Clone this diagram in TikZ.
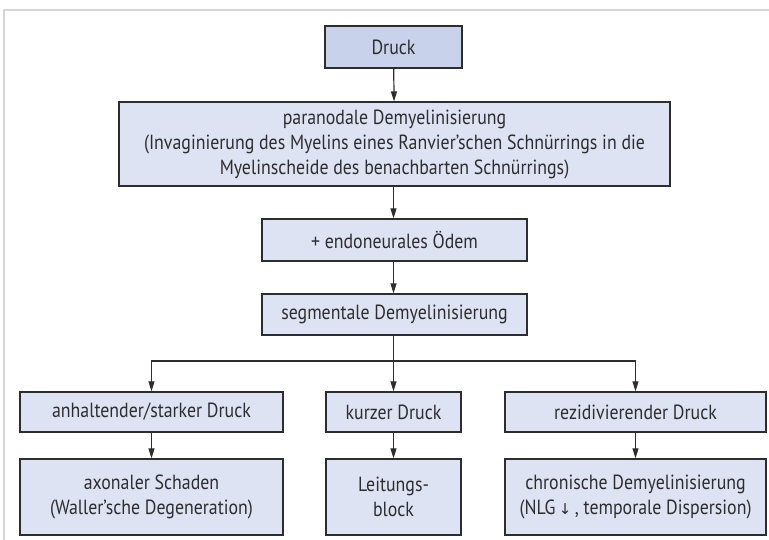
\documentclass[tikz,border=0pt]{standalone}
\usepackage{fontspec}
\setmainfont[FakeStretch=0.87]{PT Sans}
\newfontfamily\arrowfont{DejaVu Sans}
\usetikzlibrary{arrows.meta}
\definecolor{boxfill}{RGB}{221,227,242}
\definecolor{topfill}{RGB}{200,210,235}
\definecolor{framegray}{RGB}{214,214,214}
\definecolor{linegray}{RGB}{45,45,45}
\begin{document}
\begin{tikzpicture}[x=1pt,y=-1pt,
  box/.style={draw=linegray, line width=1.3pt, fill=boxfill, rectangle, inner sep=0pt,
    align=center, font=\fontsize{20.5}{25}\selectfont, text=linegray},
  conn/.style={draw=linegray, line width=1.2pt, -{Triangle[length=10pt,width=6pt]}},
  plain/.style={draw=linegray, line width=1.2pt}]
\useasboundingbox (0,0) rectangle (769,540);
\draw[framegray, line width=2pt] (3.5,541) -- (3.5,10) -- (770,10);

\node[box, fill=topfill, minimum width=137pt, minimum height=42pt] (druck) at (393.5,47) {Druck};
\node[box, minimum width=551pt, minimum height=84pt] (para) at (394.5,144)
  {paranodale Demyelinisierung\\(Invaginierung des Myelins eines Ranvier’schen Schnürrings in die\\Myelinscheide des benachbarten Schnürrings)};
\node[box, minimum width=265pt, minimum height=42pt] (odem) at (394.5,240) {+ endoneurales Ödem};
\node[box, minimum width=265pt, minimum height=41pt] (seg) at (394.5,314.5) {segmentale Demyelinisierung};

\node[box, minimum width=263pt, minimum height=40pt] (a1) at (151.5,412) {anhaltender/starker Druck};
\node[box, minimum width=135pt, minimum height=40pt] (b1) at (393.5,412) {kurzer Druck};
\node[box, minimum width=261pt, minimum height=40pt] (c1) at (635.5,412) {rezidivierender Druck};

\node[box, minimum width=263pt, minimum height=76pt] (a2) at (151.5,497) {axonaler Schaden\\(Waller’sche Degeneration)};
\node[box, minimum width=135pt, minimum height=76pt] (b2) at (393.5,497) {Leitungs-\\block};
\node[box, minimum width=261pt, minimum height=76pt] (c2) at (635.5,497) {chronische Demyelinisierung\\(NLG\,{\arrowfont\fontsize{15}{25}\selectfont ↓}\,, temporale Dispersion)};

\coordinate (j) at (393.5,361);
\draw[conn] (druck) -- (para);
\draw[conn] (para.south -| druck.south) -- (odem.north -| druck.south);
\draw[conn] (odem.south -| druck.south) -- (seg.north -| druck.south);
\draw[plain] (seg.south -| j) -- (j);
\draw[conn] (j) -- (b1.north);
\draw[conn] (j) -| (a1.north);
\draw[conn] (j) -| (c1.north);
\draw[conn] (a1) -- (a2);
\draw[conn] (b1) -- (b2);
\draw[conn] (c1) -- (c2);
\end{tikzpicture}
\end{document}
